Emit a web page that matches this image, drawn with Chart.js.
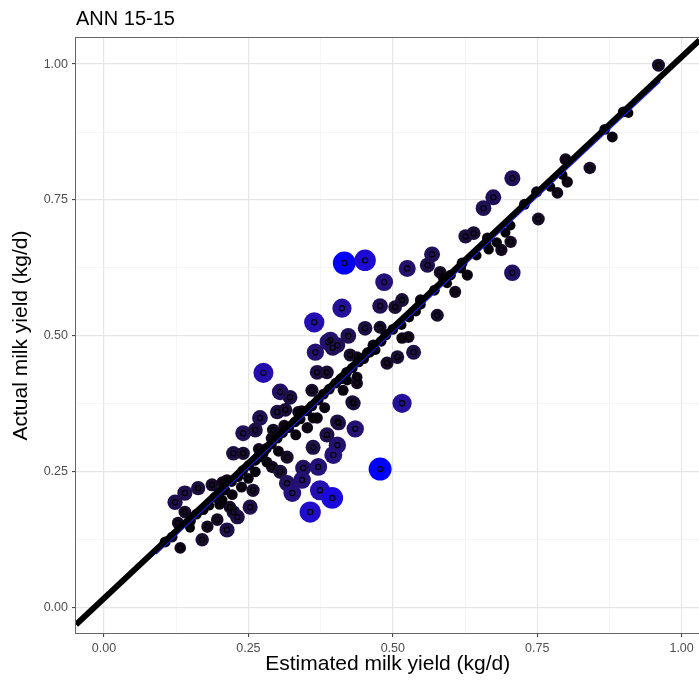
<!DOCTYPE html>
<html>
<head>
<meta charset="utf-8">
<title>ANN 15-15</title>
<script src="https://cdn.jsdelivr.net/npm/chart.js@4.4.1/dist/chart.umd.min.js"></script>
<style>
    html, body { margin: 0; padding: 0; background: #fff; overflow: hidden; }
    /* the panel runs past the right edge of the picture, as in the reference */
    #wrap { width: 699px; height: 680px; overflow: hidden; }
</style>
</head>
<body>
<div id="wrap"><canvas id="chart" width="711" height="680"></canvas></div>
<script>
const chartTitle = 'ANN 15-15';
const xTitle = 'Estimated milk yield (kg/d)';
const yTitle = 'Actual milk yield (kg/d)';
const tickValues = [0, 0.25, 0.5, 0.75, 1.0];

// estimated (x) and actual (y) milk yield
const estimated = [
    0.960, 0.899, 0.908, 0.867, 0.880, 0.799, 0.841, 0.802, 0.794, 0.785,
    0.773, 0.749, 0.752, 0.707, 0.674, 0.657, 0.704, 0.704, 0.688, 0.664,
    0.666, 0.707, 0.695, 0.680, 0.728,
    0.416, 0.452, 0.525, 0.568, 0.560, 0.626, 0.640, 0.485, 0.412, 0.478,
    0.504, 0.516, 0.548, 0.582, 0.588, 0.608, 0.577, 0.629, 0.620, 0.594,
    0.452, 0.478, 0.423, 0.404, 0.392, 0.516, 0.527, 0.536, 0.508, 0.490,
    0.466, 0.456, 0.438, 0.426, 0.414, 0.438, 0.414, 0.432, 0.516, 0.406,
    0.435,
    0.450, 0.470, 0.488, 0.500, 0.528, 0.548, 0.572, 0.600, 0.618, 0.645,
    0.662, 0.540, 0.515, 0.480, 0.460,
    0.276, 0.366, 0.388, 0.396, 0.369, 0.386, 0.305, 0.322, 0.360, 0.421,
    0.438, 0.430, 0.270, 0.300, 0.314, 0.336, 0.369, 0.404, 0.241, 0.262,
    0.293, 0.386, 0.404, 0.224, 0.241, 0.276, 0.317, 0.362, 0.397, 0.291,
    0.305, 0.345, 0.371, 0.478, 0.213, 0.258, 0.317, 0.326, 0.343, 0.374,
    0.395, 0.357, 0.253, 0.224, 0.364,
    0.140, 0.123, 0.140, 0.163, 0.187, 0.205, 0.128, 0.149, 0.170, 0.106,
    0.132, 0.179, 0.196, 0.213, 0.231, 0.218, 0.205,
    0.150, 0.160, 0.172, 0.182, 0.192, 0.200, 0.210, 0.221, 0.232, 0.240,
    0.251, 0.262, 0.270, 0.281, 0.290, 0.300, 0.309, 0.320, 0.331, 0.340,
    0.351, 0.360, 0.371, 0.380, 0.390, 0.401, 0.410, 0.420, 0.430, 0.441,
    0.200, 0.222, 0.250, 0.268, 0.282, 0.302, 0.312, 0.332, 0.342, 0.362,
    0.382, 0.352, 0.290, 0.262, 0.238, 0.118
];
const actual = [
    0.998, 0.912, 0.910, 0.880, 0.866, 0.825, 0.809, 0.783, 0.796, 0.763,
    0.774, 0.765, 0.715, 0.790, 0.755, 0.735, 0.703, 0.673, 0.658, 0.680,
    0.659, 0.616, 0.690, 0.672, 0.742,
    0.634, 0.639, 0.624, 0.650, 0.630, 0.683, 0.689, 0.599, 0.551, 0.555,
    0.553, 0.566, 0.566, 0.617, 0.606, 0.581, 0.538, 0.612, 0.634, 0.597,
    0.514, 0.516, 0.500, 0.483, 0.492, 0.496, 0.498, 0.470, 0.461, 0.450,
    0.483, 0.469, 0.461, 0.465, 0.424, 0.424, 0.400, 0.376, 0.376, 0.340,
    0.329,
    0.458, 0.474, 0.502, 0.512, 0.534, 0.558, 0.584, 0.612, 0.624, 0.648,
    0.668, 0.545, 0.520, 0.490, 0.470,
    0.432, 0.470, 0.489, 0.478, 0.433, 0.433, 0.397, 0.387, 0.400, 0.418,
    0.413, 0.378, 0.349, 0.360, 0.364, 0.360, 0.349, 0.342, 0.321, 0.327,
    0.327, 0.318, 0.299, 0.284, 0.284, 0.284, 0.277, 0.295, 0.281, 0.259,
    0.250, 0.257, 0.259, 0.255, 0.235, 0.216, 0.229, 0.211, 0.235, 0.216,
    0.202, 0.176, 0.185, 0.176, 0.525,
    0.211, 0.194, 0.176, 0.220, 0.226, 0.231, 0.156, 0.147, 0.125, 0.121,
    0.110, 0.149, 0.162, 0.143, 0.167, 0.185, 0.198,
    0.160, 0.172, 0.180, 0.188, 0.203, 0.212, 0.216, 0.232, 0.241, 0.252,
    0.262, 0.271, 0.277, 0.293, 0.301, 0.312, 0.322, 0.331, 0.342, 0.347,
    0.362, 0.371, 0.382, 0.393, 0.402, 0.413, 0.421, 0.433, 0.441, 0.452,
    0.190, 0.208, 0.238, 0.292, 0.268, 0.288, 0.335, 0.318, 0.362, 0.349,
    0.368, 0.331, 0.312, 0.250, 0.222, 0.130
];

// thick black reference line and thin blue fitted line (end points)
const refLineX = [-0.0485, 1.031];
const refLineY = [-0.031, 1.044];
const fitLineX = [0.09, 0.963];
const fitLineY = [0.099, 0.968];

const fontFamily = '"Liberation Sans", Arial, Helvetica, sans-serif';

// black -> blue gradient, interpolated in Lab like ggplot does
function labToRgb(L, a, b) {
    const fy = (L + 16) / 116, fx = fy + a / 500, fz = fy - b / 200;
    const f = t => t > 6 / 29 ? t * t * t : 3 * (6 / 29) * (6 / 29) * (t - 4 / 29);
    const X = 0.95047 * f(fx), Y = f(fy), Z = 1.08883 * f(fz);
    const r = 3.2406 * X - 1.5372 * Y - 0.4986 * Z;
    const g = -0.9689 * X + 1.8758 * Y + 0.0415 * Z;
    const bl = 0.0557 * X - 0.2040 * Y + 1.0570 * Z;
    const gam = c => {
        c = Math.max(0, Math.min(1, c));
        return c <= 0.0031308 ? 12.92 * c : 1.055 * Math.pow(c, 1 / 2.4) - 0.055;
    };
    return `rgb(${Math.round(gam(r) * 255)},${Math.round(gam(g) * 255)},${Math.round(gam(bl) * 255)})`;
}

function residualShare(p) {
    return Math.min(1, Math.abs(p.y - p.x) / 0.22);
}

const points = estimated.map((x, i) => ({ x: x, y: actual[i] }));
const toXY = (xs, ys) => xs.map((x, i) => ({ x: x, y: ys[i] }));

const isMajor = v => tickValues.some(t => Math.abs(t - v) < 1e-6);

function axisOptions(min, max, title, titlePadding) {
    return {
        type: 'linear',
        min: min,
        max: max,
        border: { display: false },
        grid: {
            color: ctx => isMajor(ctx.tick.value) ? '#e6e6e6' : '#f0f0f0',
            lineWidth: ctx => isMajor(ctx.tick.value) ? 1.2 : 0.7,
            tickLength: 4,
            tickColor: ctx => isMajor(ctx.tick.value) ? '#333' : 'rgba(0,0,0,0)',
            tickWidth: 1
        },
        ticks: {
            stepSize: 0.125,
            includeBounds: false,
            autoSkip: false,
            maxRotation: 0,
            padding: 4,
            color: '#4d4d4d',
            font: { family: fontFamily, size: 12.5 },
            callback: v => isMajor(v) ? v.toFixed(2) : ''
        },
        title: {
            display: true,
            text: title,
            color: '#000',
            font: { family: fontFamily, size: 21 },
            padding: titlePadding
        }
    };
}

// panel border and plot title
const panelPlugin = {
    id: 'panel',
    afterDraw(chart) {
        const { ctx, chartArea: a } = chart;
        ctx.save();
        ctx.strokeStyle = '#666';
        ctx.lineWidth = 1;
        ctx.strokeRect(a.left - 0.5, a.top - 0.5, a.right - a.left + 1, a.bottom - a.top + 1);
        ctx.fillStyle = '#000';
        ctx.font = '20px ' + fontFamily;
        ctx.textBaseline = 'alphabetic';
        ctx.textAlign = 'left';
        ctx.fillText(chartTitle, a.left, 25);
        ctx.restore();
    }
};

const xAxis = axisOptions(-0.0485, 1.031, xTitle, { top: 0, bottom: 3 });
xAxis.afterFit = scale => { scale.height = 47; };
const yAxis = axisOptions(-0.0465, 1.048, yTitle, { top: 9, bottom: 0 });
yAxis.afterFit = scale => { scale.width = 76; };

new Chart(document.getElementById('chart'), {
    type: 'scatter',
    data: {
        datasets: [
            {
                type: 'line',
                data: toXY(refLineX, refLineY),
                borderColor: '#000',
                borderWidth: 6,
                pointRadius: 0,
                fill: false,
                order: 0
            },
            {
                type: 'line',
                data: toXY(fitLineX, fitLineY),
                borderColor: '#2020ff',
                borderWidth: 1.5,
                pointRadius: 0,
                fill: false,
                order: 1
            },
            {
                data: points,
                pointRadius: 2.6,
                pointBorderWidth: 1.2,
                pointBorderColor: '#000',
                pointBackgroundColor: 'rgba(0,0,0,0)',
                order: 2
            },
            {
                data: points,
                pointRadius: ctx => {
                    const t = residualShare(ctx.raw);
                    return Math.sqrt(4.8 * 4.8 + t * (11.5 * 11.5 - 4.8 * 4.8));
                },
                pointBorderWidth: 0,
                pointBackgroundColor: ctx => {
                    const t = residualShare(ctx.raw);
                    return labToRgb(32.30 * t, 79.19 * t, -107.86 * t);
                },
                order: 3
            }
        ]
    },
    options: {
        responsive: false,
        animation: false,
        devicePixelRatio: 1,
        layout: { padding: { top: 38, left: 0, right: 0, bottom: 0 } },
        plugins: {
            legend: { display: false },
            tooltip: { enabled: false }
        },
        scales: { x: xAxis, y: yAxis }
    },
    plugins: [panelPlugin]
});
</script>
</body>
</html>
